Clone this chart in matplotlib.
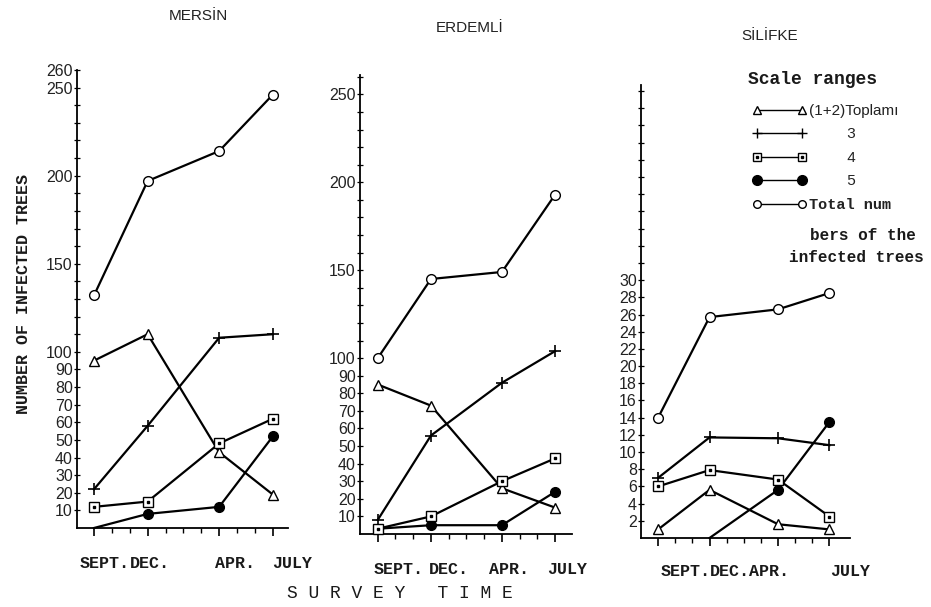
import numpy as np
import matplotlib
matplotlib.use("Agg")
import matplotlib.pyplot as plt
from matplotlib.lines import Line2D

# survey months, counted from September
months = [0, 3, 7, 10]
month_labels = ["SEPT.", "DEC.", "APR.", "JULY"]

# number of infected trees per scale range
mersin_12 = [95, 110, 43, 19]
mersin_3 = [22, 58, 108, 110]
mersin_4 = [12, 15, 48, 62]
mersin_5 = [0, 8, 12, 52]
mersin_tot = [132, 197, 214, 246]

erdemli_12 = [85, 73, 26, 15]
erdemli_3 = [8, 56, 86, 104]
erdemli_4 = [3, 10, 30, 43]
erdemli_5 = [3, 5, 5, 24]
erdemli_tot = [100, 145, 149, 193]

silifke_12 = [1, 5.6, 1.6, 1]
silifke_3 = [7, 11.7, 11.6, 10.8]
silifke_4 = [6, 7.9, 6.8, 2.5]
silifke_5 = [np.nan, 0, 5.6, 13.5]
silifke_tot = [14, 25.7, 26.6, 28.5]

MONO = "Liberation Mono"
SANS = "Liberation Sans"

W, H = 931, 607
fig = plt.figure(figsize=(W / 100, H / 100), dpi=100, facecolor="white")


def px_rect(x0, x1, ytop, ybot):
    return [x0 / W, 1 - ybot / H, (x1 - x0) / W, (ybot - ytop) / H]


panels = [
    dict(title="MERSİN", title_xy=(198, 16), rect=px_rect(77, 288, 70, 528),
         xlim=(-0.95, 10.85), ylim=(0, 260),
         yticks=list(range(10, 261, 10)), ylab=[10, 20, 30, 40, 50, 60, 70, 80, 90, 100, 150, 200, 250, 260],
         lab_x=[0.6, 3.1, 7.9, 11.1], lab_off=35,
         data=[mersin_12, mersin_3, mersin_4, mersin_5, mersin_tot]),
    dict(title="ERDEMLİ", title_xy=(470, 28), rect=px_rect(360, 572, 75, 534),
         xlim=(-1.0, 10.95), ylim=(0, 261),
         yticks=list(range(10, 261, 10)), ylab=[10, 20, 30, 40, 50, 60, 70, 80, 90, 100, 150, 200, 250],
         lab_x=[1.2, 4.0, 7.4, 10.7], lab_off=36,
         data=[erdemli_12, erdemli_3, erdemli_4, erdemli_5, erdemli_tot]),
    dict(title="SİLİFKE", title_xy=(770, 36), rect=px_rect(641, 850, 85, 538),
         xlim=(-1.0, 11.2), ylim=(0, 52.7),
         yticks=list(range(2, 53, 2)), ylab=list(range(2, 31, 2)),
         lab_x=[1.6, 4.2, 6.5, 11.2], lab_off=34,
         data=[silifke_12, silifke_3, silifke_4, silifke_5, silifke_tot]),
]

# one style per scale range: (1+2), 3, 4, 5, total
styles = [
    dict(marker="^", mfc="white", ms=7.5, zorder=3),
    dict(marker="+", ms=9, mew=1.2, zorder=3),
    dict(marker="s", mfc="white", ms=7, zorder=4),
    dict(marker="o", mfc="black", ms=7, zorder=3),
    dict(marker="o", mfc="white", ms=7, zorder=3),
]

for p in panels:
    ax = fig.add_axes(p["rect"])
    ax.set_facecolor("none")
    for k, (vals, st) in enumerate(zip(p["data"], styles)):
        st = dict(st)
        vals = np.array(vals, float)
        mark = [i for i, v in enumerate(vals) if v > 0]
        ax.plot(months, vals, color="black", lw=1.6, mec="black", mew=st.pop("mew", 1.0),
                markevery=mark, clip_on=False, **st)
        if k == 2:
            # small dot inside the square markers
            ax.plot(months, vals, ls="none", marker="s", ms=1.6, color="black",
                    clip_on=False, zorder=5)
    ax.set_xlim(*p["xlim"])
    ax.set_ylim(*p["ylim"])
    for s in ("top", "right"):
        ax.spines[s].set_visible(False)
    for s in ("left", "bottom"):
        ax.spines[s].set_linewidth(1.3)

    ax.set_xticks(months)
    ax.set_xticks([1, 2, 4, 5, 6, 8, 9], minor=True)
    ax.tick_params(axis="x", which="major", direction="out", length=6, width=1.2,
                   labelbottom=False)
    ax.tick_params(axis="x", which="minor", direction="out", length=3.5, width=1.0)
    ax.set_yticks(p["yticks"])
    ax.set_yticklabels([str(t) if t in p["ylab"] else "" for t in p["yticks"]],
                       fontfamily=SANS, fontsize=11.5, color="#222222")
    ax.tick_params(axis="y", direction="inout", length=4, width=0.9, pad=1)

    # typed month names sit a little off the ticks, as in the original
    for x, lbl in zip(p["lab_x"], month_labels):
        ax.annotate(lbl, xy=(x, 0), xycoords=("data", "axes fraction"),
                    xytext=(0, -p["lab_off"]), textcoords="offset pixels",
                    ha="center", va="center", fontfamily=MONO, fontsize=12,
                    fontweight="bold", color="#1a1a1a")

    tx, ty = p["title_xy"]
    fig.text(tx / W, 1 - ty / H, p["title"], ha="center", va="center",
             fontfamily=SANS, fontsize=11, color="#222222")

fig.text(24 / W, 1 - 294 / H, "NUMBER OF INFECTED TREES", rotation=90,
         ha="center", va="center", fontfamily=MONO, fontsize=12, fontweight="bold",
         color="#1a1a1a")
fig.text(400 / W, 1 - 593 / H, "S U R V E Y   T I M E", ha="center", va="center",
         fontfamily=MONO, fontsize=13, color="#1a1a1a")

# legend
handles = [
    Line2D([], [], color="black", lw=1.0, marker="^", mfc="white", mec="black", ms=6),
    Line2D([], [], color="black", lw=1.0, marker="+", mec="black", ms=7),
    (Line2D([], [], color="black", lw=1.0, marker="s", mfc="white", mec="black", ms=6),
     Line2D([], [], ls="none", marker="s", ms=1.5, color="black")),
    Line2D([], [], color="black", lw=1.0, marker="o", mfc="black", mec="black", ms=7),
    Line2D([], [], color="black", lw=1.0, marker="o", mfc="white", mec="black", ms=5.5),
]
labels = ["(1+2)Toplamı", "         3", "         4", "         5", "Total num"]
leg = fig.legend(handles, labels, loc="upper left", bbox_to_anchor=(752 / W, 1 - 104 / H),
                 bbox_transform=fig.transFigure, frameon=False, numpoints=2,
                 handlelength=3.6, handletextpad=0.15, labelspacing=0.62,
                 borderpad=0, borderaxespad=0, fontsize=11)
for t in leg.get_texts():
    t.set_fontfamily(SANS)
    t.set_color("#222222")
leg.get_texts()[-1].set_fontfamily(MONO)
leg.get_texts()[-1].set_fontweight("bold")

fig.text(748 / W, 1 - 80 / H, "Scale ranges", ha="left", va="center",
         fontfamily=MONO, fontsize=13, fontweight="bold", color="#1a1a1a")
fig.text(916 / W, 1 - 235 / H, "bers of the", ha="right", va="center",
         fontfamily=MONO, fontsize=11.5, fontweight="bold", color="#1a1a1a")
fig.text(924 / W, 1 - 257 / H, "infected trees", ha="right", va="center",
         fontfamily=MONO, fontsize=11.5, fontweight="bold", color="#1a1a1a")

fig.savefig("out.png", dpi=100, facecolor="white")
